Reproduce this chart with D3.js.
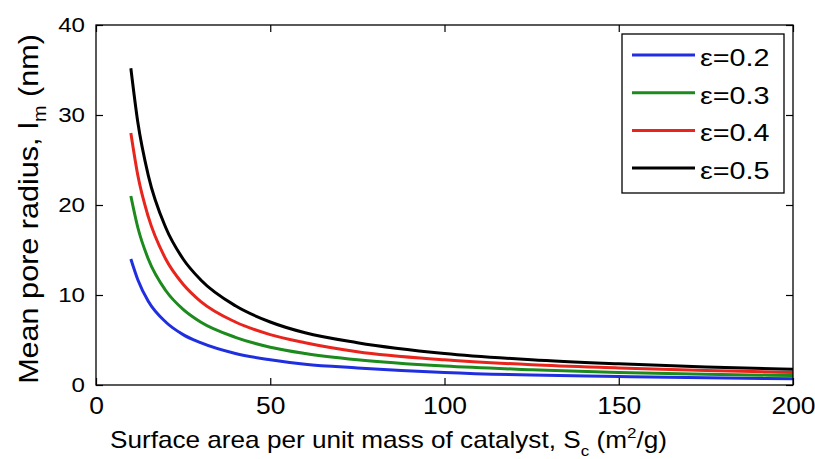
<!DOCTYPE html>
<html lang="en">
<head>
    <meta charset="UTF-8">
    <title>Mean pore radius vs surface area</title>
    <script src="https://d3js.org/d3.v7.min.js"></script>
    <style>
        body, html {
            margin: 0;
            padding: 0;
            background-color: #fff;
            font-family: 'Liberation Sans', Arial, sans-serif;
        }
        svg {
            display: block;
        }
    </style>
</head>
<body>
    <svg width="815" height="459"></svg>

    <script>
        // values
        const surfaceArea = [10, 12, 15, 20, 25, 30, 40, 50, 60, 75, 100, 125, 150, 175, 200];
        const eps02 = [14, 11.7, 9.3, 7, 5.6, 4.7, 3.5, 2.8, 2.3, 1.9, 1.4, 1.1, 0.95, 0.8, 0.7];
        const eps03 = [21, 17.5, 14, 10.5, 8.4, 7, 5.3, 4.2, 3.5, 2.8, 2.1, 1.7, 1.4, 1.2, 1.05];
        const eps04 = [28, 23.3, 18.7, 14, 11.2, 9.3, 7, 5.6, 4.7, 3.7, 2.8, 2.25, 1.9, 1.6, 1.4];
        const eps05 = [35.2, 29.2, 23.3, 17.5, 14, 11.7, 8.8, 7, 5.8, 4.7, 3.5, 2.8, 2.35, 2, 1.75];
        const seriesNames = ['\u03b5=0.2', '\u03b5=0.3', '\u03b5=0.4', '\u03b5=0.5'];
        const seriesColors = ['#1f2fe0', '#1c8a1c', '#e8241c', '#000000'];
        const xTicks = [0, 50, 100, 150, 200];
        const yTicks = [0, 10, 20, 30, 40];

        const allSeries = [eps02, eps03, eps04, eps05];

        const svg = d3.select('svg');
        const margin = { left: 96, right: 22, top: 25, bottom: 74 };
        const width = 815, height = 459;
        const stretch = 1.15; // text in the picture is a bit wide

        const x = d3.scaleLinear().domain([0, 200]).range([margin.left, width - margin.right]);
        const y = d3.scaleLinear().domain([0, 40]).range([height - margin.bottom, margin.top]);

        const tickLen = 7;

        // curves first, frame drawn on top
        const line = d3.line()
            .x((d, i) => x(surfaceArea[i]))
            .y(d => y(d))
            .curve(d3.curveMonotoneX);

        svg.selectAll('path.curve')
            .data(allSeries)
            .join('path')
            .attr('class', 'curve')
            .attr('fill', 'none')
            .attr('stroke', (d, i) => seriesColors[i])
            .attr('stroke-width', 3)
            .attr('d', line);

        // axes (inward ticks on all sides)
        const xAxis = svg.append('g')
            .attr('transform', `translate(0,${y(0)})`)
            .call(d3.axisBottom(x).tickValues(xTicks).tickSizeInner(-tickLen).tickSizeOuter(0).tickPadding(13));
        const yAxis = svg.append('g')
            .attr('transform', `translate(${x(0)},0)`)
            .call(d3.axisLeft(y).tickValues(yTicks).tickSizeInner(-tickLen).tickSizeOuter(0).tickPadding(11));
        svg.append('g')
            .attr('transform', `translate(0,${y(40)})`)
            .call(d3.axisTop(x).tickValues(xTicks).tickSizeInner(-tickLen).tickSizeOuter(0).tickFormat(''));
        svg.append('g')
            .attr('transform', `translate(${x(200)},0)`)
            .call(d3.axisRight(y).tickValues(yTicks).tickSizeInner(-tickLen).tickSizeOuter(0).tickFormat(''));

        svg.selectAll('.domain').remove();
        svg.selectAll('.tick line').attr('stroke', '#000').attr('stroke-width', 1.2);

        xAxis.selectAll('text')
            .attr('font-family', 'Liberation Sans, Arial, sans-serif')
            .attr('font-size', 23)
            .attr('fill', '#000')
            .attr('transform', `scale(${stretch},1)`);
        yAxis.selectAll('text')
            .attr('font-family', 'Liberation Sans, Arial, sans-serif')
            .attr('font-size', 21)
            .attr('fill', '#000')
            .attr('x', -11 / stretch)
            .attr('transform', `scale(${stretch},1)`);

        // frame
        svg.append('rect')
            .attr('x', x(0))
            .attr('y', y(40))
            .attr('width', x(200) - x(0))
            .attr('height', y(0) - y(40))
            .attr('fill', 'none')
            .attr('stroke', '#000')
            .attr('stroke-width', 1.3);

        // axis titles
        const xLabel = svg.append('text')
            .attr('transform', `translate(110,448) scale(1.137,1)`)
            .attr('font-size', 23)
            .attr('fill', '#000');
        xLabel.append('tspan').text('Surface area per unit mass of catalyst, S');
        xLabel.append('tspan').attr('font-size', 15).attr('dy', 8).text('c');
        xLabel.append('tspan').attr('dy', -8).text(' (m');
        xLabel.append('tspan').attr('font-size', 15).attr('dy', -10).text('2');
        xLabel.append('tspan').attr('dy', 10).text('/g)');

        const yLabel = svg.append('text')
            .attr('transform', `translate(38,209) rotate(-90) scale(1.33,1.2)`)
            .attr('text-anchor', 'middle')
            .attr('font-size', 23)
            .attr('fill', '#000');
        yLabel.append('tspan').text('Mean pore radius, l');
        yLabel.append('tspan').attr('font-size', 15).attr('dy', 7).text('m');
        yLabel.append('tspan').attr('dy', -7).text(' (nm)');

        // legend
        const legend = svg.append('g');
        legend.append('rect')
            .attr('x', 622)
            .attr('y', 34)
            .attr('width', 162)
            .attr('height', 159)
            .attr('fill', '#fff')
            .attr('stroke', '#000')
            .attr('stroke-width', 1.3);

        const items = legend.selectAll('g.item')
            .data(seriesNames)
            .join('g')
            .attr('class', 'item')
            .attr('transform', (d, i) => `translate(0,${55 + i * 37.7})`);
        items.append('line')
            .attr('x1', 632)
            .attr('x2', 695)
            .attr('stroke', (d, i) => seriesColors[i])
            .attr('stroke-width', 3);
        items.append('text')
            .attr('transform', 'translate(700,11) scale(1.25,1)')
            .attr('font-size', 23)
            .attr('fill', '#000')
            .text(d => d);
    </script>
</body>
</html>
